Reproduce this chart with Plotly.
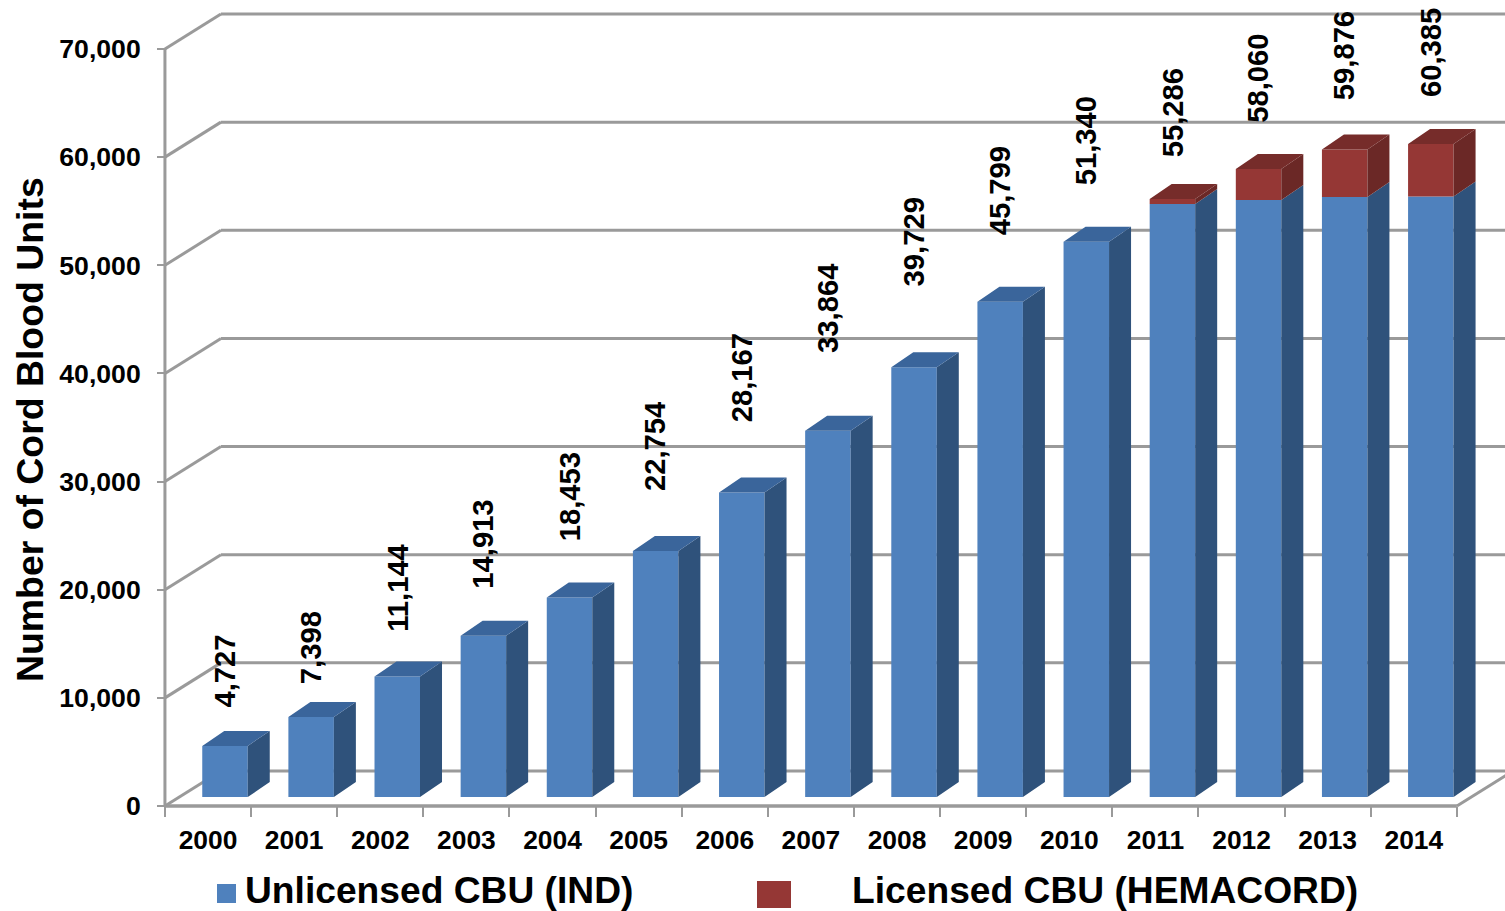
import plotly.graph_objects as go

years = ["2000","2001","2002","2003","2004","2005","2006","2007","2008","2009","2010","2011","2012","2013","2014"]
total = [4727,7398,11144,14913,18453,22754,28167,33864,39729,45799,51340,55286,58060,59876,60385]
unlicensed = [4727,7398,11144,14913,18453,22754,28167,33864,39729,45799,51340,54840,55200,55480,55520]
licensed = [t-u for t,u in zip(total,unlicensed)]
total_labels = ["4,727","7,398","11,144","14,913","18,453","22,754","28,167","33,864","39,729","45,799","51,340","55,286","58,060","59,876","60,385"]
label_heights = [12430,14610,20200,24200,28600,33250,39620,46050,52120,56860,61490,64100,67300,69400,69700]
y_ticks = [0,10000,20000,30000,40000,50000,60000,70000]

PX_Y = 757/70000
PX_X = 86.13
X0, X1 = (0-208)/PX_X, (1505-208)/PX_X
Y0, Y1 = (806-911)/PX_Y, (806-0)/PX_Y
WALL_DX, WALL_DY = 56/PX_X, 35/PX_Y
BAR_W, BAR_SHIFT, BAR_BASE = 45.5/PX_X, 17/PX_X, 9/PX_Y
D_X, D_Y = 22/PX_X, 15/PX_Y
AXL, AXR = -0.5, 14.5
GRAY = "#9A9A9A"
BLUE, BLUE_S, BLUE_T = "#4F81BD", "#2F527B", "#3A659B"
RED, RED_S, RED_T = "#953735", "#6B2826", "#762C2A"
FONT = "Liberation Sans"

idx = list(range(len(years)))
xc = [i+BAR_SHIFT for i in idx]
shapes = []
def line(x0,y0,x1,y1,w=3):
    shapes.append(dict(type="line",xref="x",yref="y",x0=x0,y0=y0,x1=x1,y1=y1,layer="below",line=dict(color=GRAY,width=w)))
for v in y_ticks:
    line(AXL,v,AXL+WALL_DX,v+WALL_DY)
    line(AXL+WALL_DX,v+WALL_DY,X1+1,v+WALL_DY)
line(AXR,0,AXR+WALL_DX,WALL_DY)
line(AXL,0,AXR,0,3.5)
line(AXL,0,AXL,y_ticks[-1],3)

def faces(cs,tops,bots):
    sx,sy,tx,ty=[],[],[],[]
    for c,t,b in zip(cs,tops,bots):
        r=c+BAR_W/2; l=c-BAR_W/2
        sx+=[r,r+D_X,r+D_X,r,r,None]; sy+=[b,b+D_Y,t+D_Y,t,b,None]
        tx+=[l,l+D_X,r+D_X,r,l,None]; ty+=[t,t+D_Y,t+D_Y,t,t,None]
    return sx,sy,tx,ty

fig = go.Figure()
blue_base=[BAR_BASE]*len(years)
blue_top=[BAR_BASE+u for u in unlicensed]
red_top=[BAR_BASE+u+l for u,l in zip(unlicensed,licensed)]
fig.add_bar(x=xc,y=unlicensed,base=blue_base,width=BAR_W,marker=dict(color=BLUE,line_width=0),name="Unlicensed CBU (IND)")
fig.add_bar(x=xc,y=licensed,base=blue_top,width=BAR_W,marker=dict(color=RED,line_width=0),name="Licensed CBU (HEMACORD)")
sx,sy,_,_=faces(xc,blue_top,blue_base)
fig.add_scatter(x=sx,y=sy,mode="lines",fill="toself",fillcolor=BLUE_S,line=dict(width=0,color=BLUE_S),hoverinfo="skip",showlegend=False)
plain=[i for i in idx if licensed[i]==0]
_,_,tx,ty=faces([xc[i] for i in plain],[blue_top[i] for i in plain],[blue_base[i] for i in plain])
fig.add_scatter(x=tx,y=ty,mode="lines",fill="toself",fillcolor=BLUE_T,line=dict(width=0,color=BLUE_T),hoverinfo="skip",showlegend=False)
sel=[i for i in idx if licensed[i]>0]
sx,sy,tx,ty=faces([xc[i] for i in sel],[red_top[i] for i in sel],[blue_top[i] for i in sel])
fig.add_scatter(x=sx,y=sy,mode="lines",fill="toself",fillcolor=RED_S,line=dict(width=0,color=RED_S),hoverinfo="skip",showlegend=False)
fig.add_scatter(x=tx,y=ty,mode="lines",fill="toself",fillcolor=RED_T,line=dict(width=0,color=RED_T),hoverinfo="skip",showlegend=False)

annos=[dict(x=c,y=h,xref="x",yref="y",text="<b>"+t+"</b>",textangle=-90,showarrow=False,xanchor="center",yanchor="middle",
            font=dict(family=FONT,size=29.2,color="#000000"))
       for c,h,t in zip(xc,label_heights,total_labels)]
annos.append(dict(x=30/1505,y=1-430/911,xref="paper",yref="paper",xanchor="center",yanchor="middle",text="<b>Number of Cord Blood Units</b>",textangle=-90,showarrow=False,font=dict(family=FONT,size=37.4,color="#000000")))
annos.append(dict(x=243/1505,y=1-889.5/911,xref="paper",yref="paper",xanchor="left",yanchor="middle",text="<b>Unlicensed CBU (IND)</b>",showarrow=False,font=dict(family=FONT,size=37.2,color="#000000")))
annos.append(dict(x=850/1505,y=1-889.5/911,xref="paper",yref="paper",xanchor="left",yanchor="middle",text="<b>Licensed CBU (HEMACORD)</b>",showarrow=False,font=dict(family=FONT,size=37.2,color="#000000")))
shapes.append(dict(type="rect",xref="paper",yref="paper",x0=217/1505,x1=236/1505,y0=1-903/911,y1=1-884/911,fillcolor=BLUE,line_width=0))
shapes.append(dict(type="rect",xref="paper",yref="paper",x0=757/1505,x1=791/1505,y0=1-908/911,y1=1-881/911,fillcolor=RED,line_width=0))

fig.update_layout(width=1505,height=911,margin=dict(l=0,r=0,t=0,b=0),paper_bgcolor="white",plot_bgcolor="white",
    showlegend=False,barmode="overlay",shapes=shapes,annotations=annos,
    xaxis=dict(range=[X0,X1],domain=[0,1],anchor="free",position=105/911,showgrid=False,zeroline=False,showline=False,
        tickmode="array",tickvals=idx,ticktext=years,ticks="",ticklabelstandoff=16,tickfont=dict(family=FONT,size=26.4,color="#000000",weight="bold"),
        minor=dict(tickmode="array",tickvals=[i-0.5 for i in range(16)],ticks="outside",ticklen=10,tickcolor=GRAY,tickwidth=2)),
    yaxis=dict(range=[Y0,Y1],domain=[0,1],anchor="free",position=165/1505,showgrid=False,zeroline=False,showline=False,
        tickmode="array",tickvals=y_ticks,tickformat=",",ticks="outside",ticklen=8,tickcolor=GRAY,tickwidth=2,ticklabelstandoff=11,
        tickfont=dict(family=FONT,size=26.6,color="#000000",weight="bold")))
fig.write_html("out.html",config={"displayModeBar":False},post_script="document.body.style.margin='0';")
